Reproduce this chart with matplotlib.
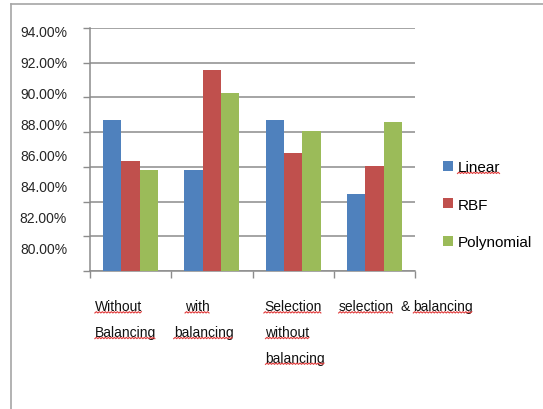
import numpy as np
import matplotlib
matplotlib.use("Agg")
import matplotlib.pyplot as plt
from matplotlib.lines import Line2D
from matplotlib.patches import Patch
from matplotlib.transforms import IdentityTransform

plt.rcParams["font.family"] = ["Liberation Sans", "DejaVu Sans"]

# data (percent)
categories = ["Without\nBalancing", "with\nbalancing",
              "Selection\nwithout\nbalancing", "selection  & balancing"]
series_names = ["Linear", "RBF", "Polynomial"]
linear = [88.72, 85.80, 88.72, 84.46]
rbf = [86.35, 91.57, 86.77, 86.04]
poly = [85.80, 90.23, 88.09, 88.57]
yticks = [80, 82, 84, 86, 88, 90, 92, 94]

colors = ["#4F81BD", "#C0504D", "#9BBB59"]
GRID = "#8c8c8c"
# per-line x offsets of the category labels (category units)
label_offsets = [[-0.44, -0.44], [-0.33, -0.47], [-0.36, -0.34, -0.34], [-0.44]]

W, H = 543, 410
fig = plt.figure(figsize=(W / 100, H / 100), dpi=100)
ax = fig.add_axes([90 / W, 1 - 272 / H, 325 / W, 243 / H])

x = np.arange(len(categories))
bw = 0.225
for k, vals in enumerate([linear, rbf, poly]):
    ax.bar(x + (k - 1) * bw, vals, bw, color=colors[k], zorder=3)

ax.set_xlim(-0.5, len(categories) - 0.5)
ax.set_ylim(yticks[0], yticks[-1])
ax.set_yticks(yticks)
ax.yaxis.grid(True, color=GRID, lw=1.1)
ax.set_axisbelow(True)
ax.set_xticks(np.arange(-0.5, len(categories), 1))
ax.tick_params(axis="both", color=GRID, length=5, width=1,
               labelleft=False, labelbottom=False)
for side in ["top", "right"]:
    ax.spines[side].set_visible(False)
for side in ["left", "bottom"]:
    ax.spines[side].set_color(GRID)
    ax.spines[side].set_linewidth(1.1)

# tick labels sit slightly compressed in the original, drawn on a twin scale
ax2 = ax.twinx()
ax2.set_ylim(78.45, 94.19)
ax2.yaxis.tick_left()
ax2.set_yticks(yticks)
ax2.set_yticklabels([f"{v:.2f}%" for v in yticks])
ax2.tick_params(axis="y", length=0, pad=16.5, labelsize=10, labelcolor="#262626")
for s in ax2.spines.values():
    s.set_visible(False)

# category labels, one text per word so they can get the spell-check squiggle
squiggle = []
for i, (cat, offs) in enumerate(zip(categories, label_offsets)):
    for j, line in enumerate(cat.split("\n")):
        prev = None
        gap = 0
        for word in line.split(" "):
            if word == "":
                gap += 2.5
                continue
            if prev is None:
                t = ax.annotate(word, xy=(i + offs[j], 0),
                                xycoords=("data", "axes fraction"),
                                xytext=(0, -20.5 - 18.5 * j), textcoords="offset points",
                                ha="left", va="top", fontsize=10, color="#111111",
                                annotation_clip=False)
            else:
                t = ax.annotate(word, xy=(1, 0), xycoords=prev,
                                xytext=(gap + 2.5, 0), textcoords="offset points",
                                ha="left", va="bottom", fontsize=10, color="#111111")
            if word != "&":
                squiggle.append(t)
            prev = t
            gap = 0

handles = [Patch(facecolor=c, edgecolor="none") for c in colors]
leg = fig.legend(handles, series_names, loc="upper left",
                 bbox_to_anchor=(443 / W, 1 - 161 / H), frameon=False, fontsize=11,
                 handlelength=0.65, handleheight=0.65, handletextpad=0.3,
                 labelspacing=1.55, borderpad=0, borderaxespad=0)
squiggle.append(leg.get_texts()[0])

# outer chart border (top and left edges visible)
fig.add_artist(Line2D([10.5 / W, 1], [1 - 4.5 / H] * 2, transform=fig.transFigure,
                      color="#a6a6a6", lw=1.2))
fig.add_artist(Line2D([10.5 / W] * 2, [0, 1 - 4.5 / H], transform=fig.transFigure,
                      color="#a6a6a6", lw=1.2))

fig.canvas.draw()
renderer = fig.canvas.get_renderer()
for t in squiggle:
    bb = t.get_window_extent(renderer)
    xs = np.arange(bb.x0, bb.x1, 1.5)
    ys = bb.y0 + 0.5 + 1.3 * (np.arange(len(xs)) % 2)
    fig.add_artist(Line2D(xs, ys, transform=IdentityTransform(),
                          color="#e03a3a", lw=0.8))

fig.savefig("out.png", dpi=100)
plt.close(fig)
